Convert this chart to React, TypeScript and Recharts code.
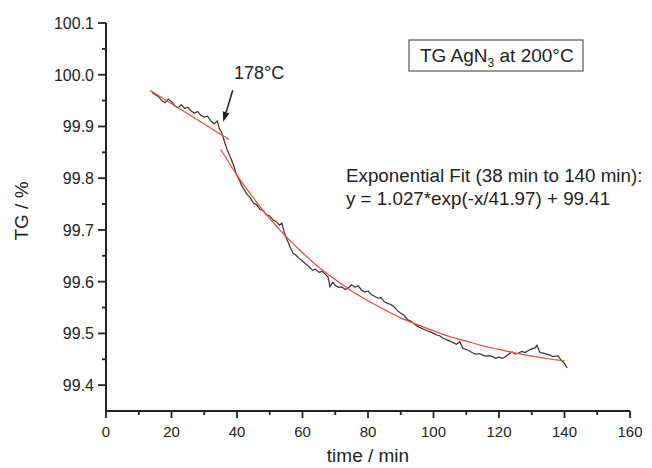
import React from 'react';
import { ComposedChart, Line, XAxis, YAxis, ReferenceLine } from 'recharts';

// Measured TG curve (time in min, TG in %)
const tgTime = [
  14, 15, 16, 17, 18, 19, 20, 21, 22, 23, 24, 25, 26, 27, 28, 29, 30, 31, 32, 33, 34,
  34.6, 35.2, 35.8, 36.4, 37, 37.6, 38.2, 39, 39.8, 40.6, 41.4, 42.2, 43, 44, 45, 46, 47, 48, 49, 50,
  51, 52, 53, 53.7, 54.5, 55.3, 56.2, 57.1, 58, 59, 60, 61, 62, 63, 64, 65, 66, 67, 67.8, 68.4, 69.2,
  70, 71, 72, 73, 74, 75, 76, 77, 78, 79, 80, 81, 82, 83, 84, 85, 86, 87, 88, 89, 90,
  91, 92, 93, 94, 95, 96, 97, 98, 99, 100, 101, 102, 103, 104, 105, 106, 107, 108, 109, 110,
  111, 112, 113, 114, 115, 116, 117, 118, 119, 120, 121, 122, 123, 124, 125, 126, 127, 128, 129, 130,
  131, 131.6, 132.5, 133.5, 134.5, 135.5, 136.5, 137.5, 138, 139, 140, 140.8,
];
const tgValue = [
  99.966, 99.962, 99.958, 99.950, 99.946, 99.953, 99.948, 99.940, 99.936, 99.942, 99.935, 99.937, 99.930, 99.926, 99.929, 99.921, 99.918, 99.920, 99.911, 99.905, 99.911,
  99.896, 99.890, 99.878, 99.866, 99.855, 99.846, 99.837, 99.824, 99.808, 99.798, 99.786, 99.778, 99.769, 99.763, 99.752, 99.749, 99.740, 99.737, 99.729, 99.727,
  99.719, 99.716, 99.709, 99.713, 99.694, 99.681, 99.667, 99.655, 99.651, 99.645, 99.640, 99.634, 99.629, 99.622, 99.624, 99.618, 99.620, 99.614, 99.609, 99.590, 99.599,
  99.593, 99.589, 99.590, 99.585, 99.588, 99.594, 99.589, 99.592, 99.584, 99.580, 99.582, 99.575, 99.572, 99.568, 99.569, 99.561, 99.558, 99.556, 99.551, 99.544, 99.539,
  99.535, 99.527, 99.524, 99.519, 99.514, 99.511, 99.508, 99.505, 99.503, 99.500, 99.497, 99.495, 99.490, 99.488, 99.485, 99.482, 99.479, 99.484, 99.471, 99.469,
  99.466, 99.462, 99.460, 99.461, 99.458, 99.456, 99.457, 99.455, 99.452, 99.454, 99.452, 99.455, 99.460, 99.464, 99.460, 99.462, 99.465, 99.463, 99.467, 99.470,
  99.472, 99.477, 99.463, 99.462, 99.460, 99.458, 99.455, 99.456, 99.457, 99.448, 99.442, 99.433,
];

// Linear fit before the step
const linTime = [13.4, 37.6];
const linValue = [99.970, 99.875];

// Exponential fit (38 min to 140 min)
const expTime = [35, 40, 45, 50, 55, 60, 65, 70, 75, 80, 85, 90, 95, 100, 105, 110, 115, 120, 125, 130, 135, 140];
const expValue = [99.856, 99.806, 99.762, 99.722, 99.687, 99.656, 99.628, 99.604, 99.582, 99.563, 99.546, 99.530, 99.517, 99.505, 99.494, 99.485, 99.476, 99.469, 99.462, 99.456, 99.451, 99.447];

const xTicks = [0, 10, 20, 30, 40, 50, 60, 70, 80, 90, 100, 110, 120, 130, 140, 150, 160];
const yTicks = [99.4, 99.45, 99.5, 99.55, 99.6, 99.65, 99.7, 99.75, 99.8, 99.85, 99.9, 99.95, 100.0, 100.05, 100.1];

const arrowFrom = { x: 38.7, y: 99.970 };
const arrowTo = { x: 35.8, y: 99.909 };

const tgData = tgTime.map((t, i) => ({ t, v: tgValue[i] }));
const linData = linTime.map((t, i) => ({ t, v: linValue[i] }));
const expData = expTime.map((t, i) => ({ t, v: expValue[i] }));

const FONT = '"Liberation Sans", Arial, Helvetica, sans-serif';
const INK = '#222';
const RED = '#ee4a33';

const XTick = (props: any) => {
  const { x, y, payload } = props;
  const v = payload.value;
  const major = Math.round(v) % 20 === 0;
  return (
    <g>
      <line x1={x} x2={x} y1={y} y2={y + (major ? 7 : 4)} stroke={INK} strokeWidth={1.8} />
      {major && (
        <text x={x} y={y + 26} textAnchor="middle" fontSize={15} fill={INK} fontFamily={FONT}>
          {v}
        </text>
      )}
    </g>
  );
};

const YTick = (props: any) => {
  const { x, y, payload } = props;
  const v = payload.value;
  const major = Math.abs(Math.round(v * 10) - v * 10) < 1e-6;
  return (
    <g>
      <line x1={x - (major ? 8 : 4)} x2={x} y1={y} y2={y} stroke={INK} strokeWidth={1.8} />
      {major && (
        <text x={x - 12} y={y + 6} textAnchor="end" fontSize={16} fill={INK} fontFamily={FONT}>
          {v.toFixed(1)}
        </text>
      )}
    </g>
  );
};

const arrowShape = (p: any) => {
  const { x1, y1, x2, y2 } = p;
  const ang = Math.atan2(y2 - y1, x2 - x1);
  const L = 10;
  const W = 3.5;
  const bx = x2 - L * Math.cos(ang);
  const by = y2 - L * Math.sin(ang);
  const px = -Math.sin(ang) * W;
  const py = Math.cos(ang) * W;
  return (
    <g>
      <line x1={x1} y1={y1} x2={bx} y2={by} stroke={INK} strokeWidth={1.5} />
      <polygon points={`${x2},${y2} ${bx + px},${by + py} ${bx - px},${by - py}`} fill={INK} />
    </g>
  );
};

export default function App() {
  return (
    <div style={{ position: 'absolute', left: 0, top: 0, width: 652, height: 468, background: '#fff' }}>
      <ComposedChart
        width={652}
        height={468}
        margin={{ top: 23, right: 22, bottom: 0, left: 6 }}
      >
        <XAxis
          dataKey="t"
          type="number"
          domain={[0, 160]}
          ticks={xTicks}
          interval={0}
          height={57}
          tickSize={0}
          tickMargin={0}
          tickLine={false}
          tick={<XTick />}
          axisLine={{ stroke: INK, strokeWidth: 2 }}
          allowDataOverflow
        />
        <YAxis
          type="number"
          domain={[99.35, 100.1]}
          ticks={yTicks}
          interval={0}
          width={100}
          tickSize={0}
          tickMargin={0}
          tickLine={false}
          tick={<YTick />}
          axisLine={{ stroke: INK, strokeWidth: 2 }}
          allowDataOverflow
        />
        <Line
          data={tgData}
          dataKey="v"
          type="linear"
          stroke="#333"
          strokeWidth={1.2}
          dot={false}
          isAnimationActive={false}
        />
        <Line
          data={linData}
          dataKey="v"
          type="linear"
          stroke={RED}
          strokeWidth={1.2}
          dot={false}
          isAnimationActive={false}
        />
        <Line
          data={expData}
          dataKey="v"
          type="monotone"
          stroke={RED}
          strokeWidth={1.2}
          dot={false}
          isAnimationActive={false}
        />
        <ReferenceLine
          segment={[arrowFrom, arrowTo]}
          stroke={INK}
          shape={arrowShape}
        />
      </ComposedChart>
      <svg
        width={652}
        height={468}
        style={{ position: 'absolute', left: 0, top: 0, pointerEvents: 'none' }}
      >
        <text x={234} y={79} fontSize={18} fill={INK} fontFamily={FONT}>178°C</text>
        <rect x={409} y={40} width={174} height={31} fill="#fff" stroke="#555" strokeWidth={1.2} />
        <text x={420} y={62} fontSize={19} fill={INK} fontFamily={FONT}>
          TG AgN
          <tspan fontSize={12} dy={5}>3</tspan>
          <tspan dy={-5}> at 200°C</tspan>
        </text>
        <text x={346} y={182} fontSize={18.8} fill={INK} fontFamily={FONT}>
          Exponential Fit (38 min to 140 min):
        </text>
        <text x={346} y={205} fontSize={18.8} fill={INK} fontFamily={FONT}>
          y = 1.027*exp(-x/41.97) + 99.41
        </text>
        <text x={368} y={462} textAnchor="middle" fontSize={19} fill={INK} fontFamily={FONT}>
          time / min
        </text>
        <text
          x={0}
          y={0}
          transform="translate(28,211) rotate(-90)"
          textAnchor="middle"
          fontSize={19}
          fill={INK}
          fontFamily={FONT}
        >
          TG / %
        </text>
      </svg>
    </div>
  );
}
